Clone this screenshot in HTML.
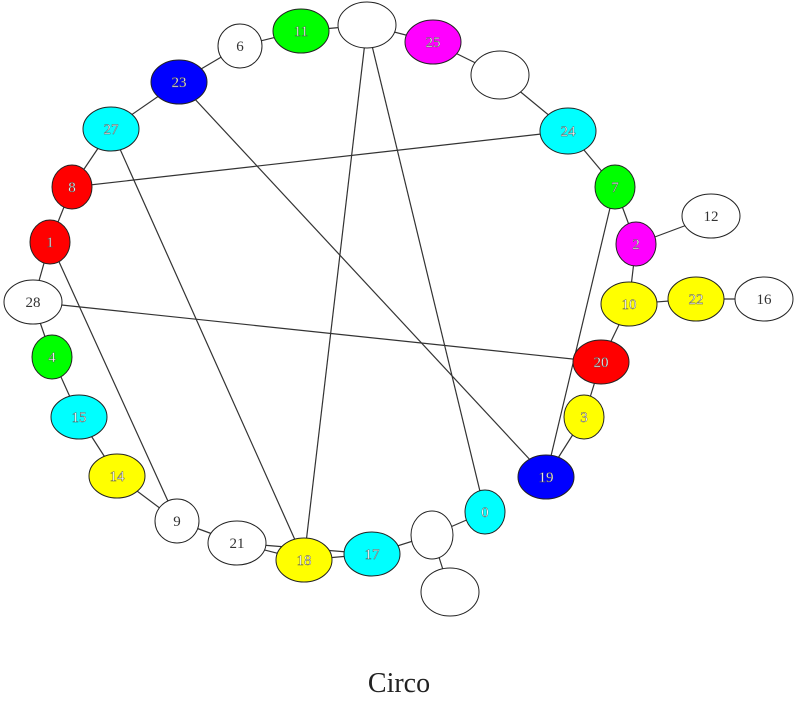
<!DOCTYPE html>
<html><head><meta charset="utf-8"><style>
html,body{margin:0;padding:0;background:#fff;width:798px;height:710px;overflow:hidden}
svg text{font-family:"Liberation Serif",serif}
</style></head><body>
<svg id="g" width="798" height="710" viewBox="0 0 798 710" xmlns="http://www.w3.org/2000/svg">
<g id="edges"></g>
<g id="nodes"></g>
<text x="399" y="692" text-anchor="middle" font-size="28" fill="#222">Circo</text>
</svg>
<script>
const nodeIds = ["11","t","25","6","23","u","27","24","8","7","12","2","1","28","10","22","16","20","4","3","15","19","14","0","9","v","21","18","17","w"];
const nodeLabels = ["11","","25","6","23","","27","24","8","7","12","2","1","28","10","22","16","20","4","3","15","19","14","0","9","","21","18","17",""];
const nodeX = [301,367,433,240,179,500,111,568,72,615,711,636,50,33,629,696,764,601,52,584,79,546,117,485,177,432,237,304,372,450];
const nodeY = [31,25,42,46,82,75,129,131,187,187,216,244,242,302,304,299,299,362,357,417,417,477,476,512,521,535,543,560,554,592];
const nodeRX = [28,29,28,22,28,29,28,28,20,20,29,20,20,29,28,28,29,28,20,20,28,28,28,20,22,21,29,28,28,29];
const nodeRY = [22,23,22,22,22,24,22,23,22,22,22,22,22,22,22,22,22,22,22,22,22,22,22,22,22,24,22,22,22,24];
const nodeColor = ["#00ff00","#fff","#ff00ff","#fff","#0000ff","#fff","#00ffff","#00ffff","#ff0000","#00ff00","#fff","#ff00ff","#ff0000","#fff","#ffff00","#ffff00","#fff","#ff0000","#00ff00","#ffff00","#00ffff","#0000ff","#ffff00","#00ffff","#fff","#fff","#fff","#ffff00","#00ffff","#fff"];
const edgeFrom = ["11","6","23","23","27","8","1","28","4","15","14","9","21","18","17","v","v","11","t","25","u","24","7","2","2","10","22","10","20","3","19","19","18","18","8","28","1","0","21"];
const edgeTo   = ["6","23","23","27","8","1","28","4","15","14","9","21","18","17","v","0","w","t","25","u","24","7","2","12","10","22","16","20","3","19","7","23","t","27","24","20","9","t","17"];
const SVGNS="http://www.w3.org/2000/svg";
const eg=document.getElementById('edges'), ng=document.getElementById('nodes');
function idx(id){return nodeIds.indexOf(id);}
for(let k=0;k<edgeFrom.length;k++){
  const a=idx(edgeFrom[k]), b=idx(edgeTo[k]);
  const l=document.createElementNS(SVGNS,'line');
  l.setAttribute('x1',nodeX[a]);l.setAttribute('y1',nodeY[a]);
  l.setAttribute('x2',nodeX[b]);l.setAttribute('y2',nodeY[b]);
  l.setAttribute('stroke','#333');l.setAttribute('stroke-width','1.2');
  
  
  eg.appendChild(l);
}
for(let i=0;i<nodeIds.length;i++){
  const e=document.createElementNS(SVGNS,'ellipse');
  e.setAttribute('cx',nodeX[i]);e.setAttribute('cy',nodeY[i]);
  e.setAttribute('rx',nodeRX[i]);e.setAttribute('ry',nodeRY[i]);
  e.setAttribute('fill',nodeColor[i]);e.setAttribute('stroke','#222');e.setAttribute('stroke-width','1');
  
  
  ng.appendChild(e);
  if(nodeLabels[i]){
    const t=document.createElementNS(SVGNS,'text');
    t.setAttribute('x',nodeX[i]);t.setAttribute('y',nodeY[i]+5);
    t.setAttribute('text-anchor','middle');t.setAttribute('font-size','15');
    const colored=nodeColor[i]!=="#fff";
    t.setAttribute('fill',colored?'#fff':'#333');
    if(colored){t.setAttribute('stroke','#555');t.setAttribute('stroke-width','0.4');}
    t.textContent=nodeLabels[i];
    
    
    ng.appendChild(t);
  }
}
</script>
</body></html>
